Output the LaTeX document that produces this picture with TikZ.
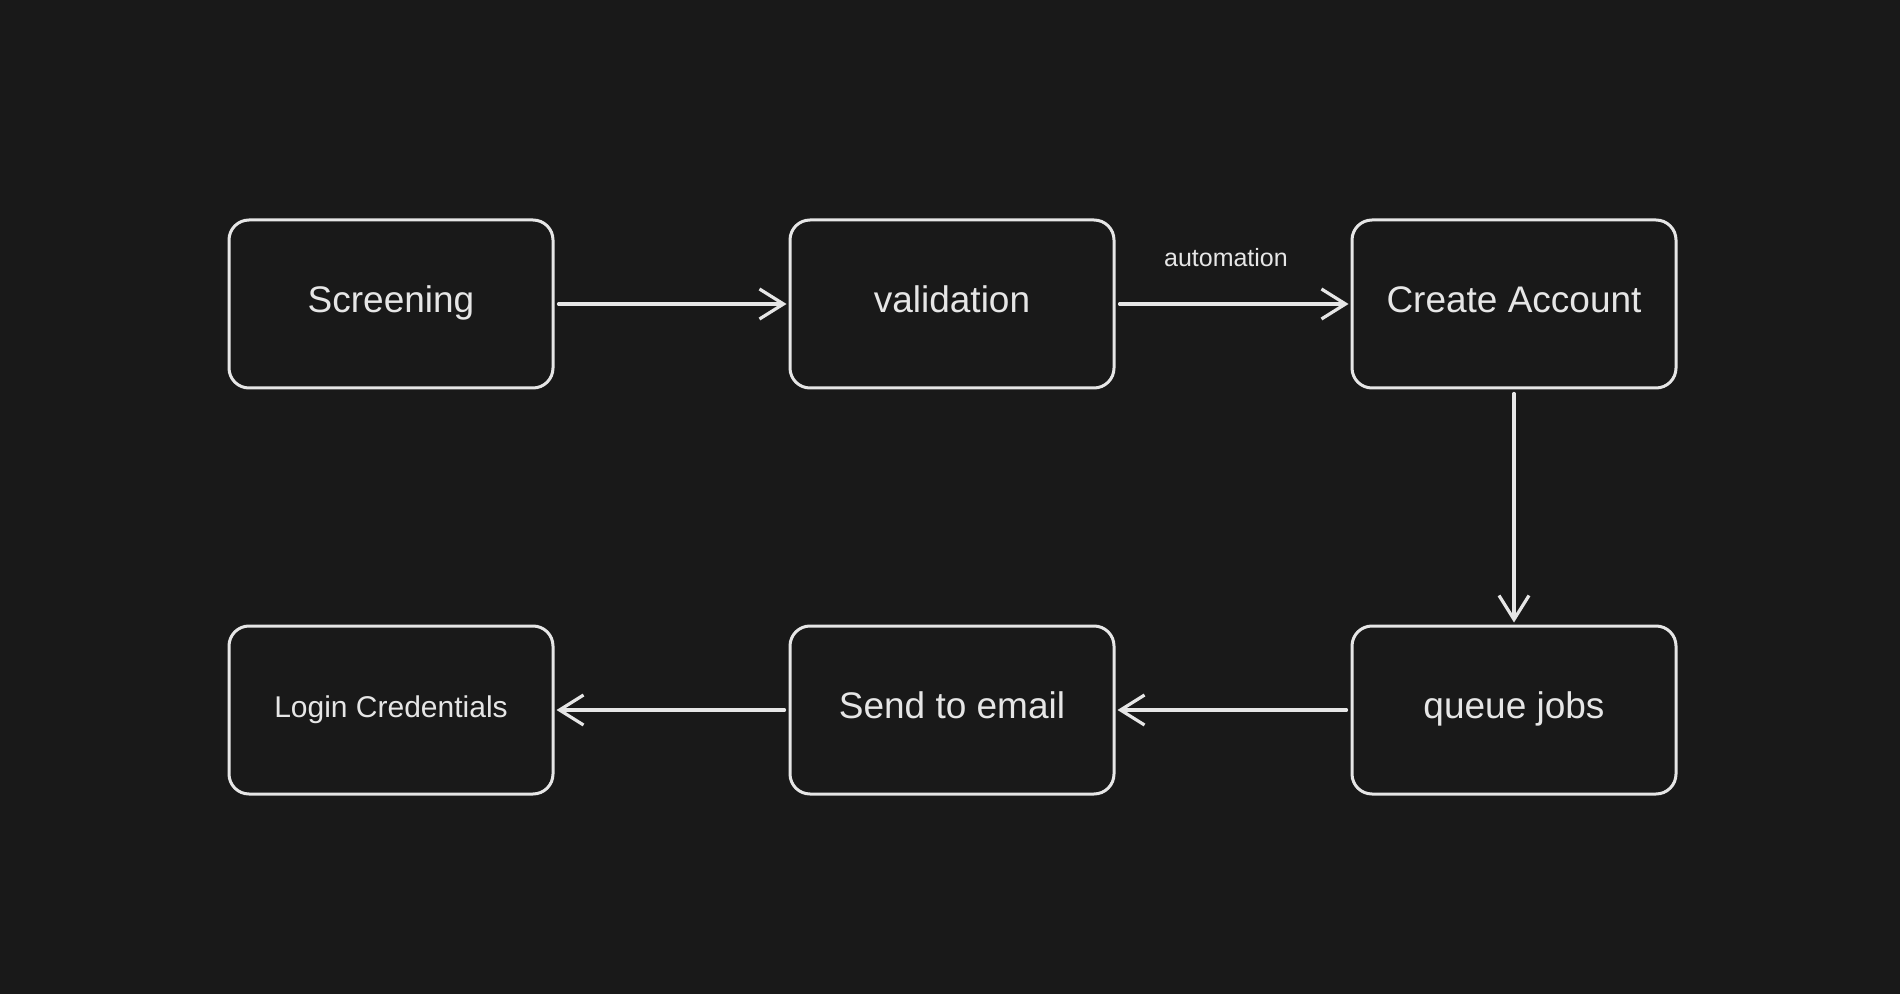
\documentclass[tikz,border=0pt]{standalone}
\usepackage{fontspec}
\setmainfont{Liberation Sans}
\usetikzlibrary{arrows.meta}
\definecolor{bg}{HTML}{191919}
\definecolor{ink}{HTML}{E6E6E6}
\begin{document}
\begin{tikzpicture}[x=0.5pt,y=-0.5pt,
  box/.style={draw=ink, line width=1.5pt, rounded corners=10pt, fill=bg,
    minimum width=162pt, minimum height=84pt, text=ink, inner sep=0pt,
    text height=0.88em, text depth=0em,
    font=\fontsize{18.5}{22}\selectfont},
  smallbox/.style={box, text height=0.75em, font=\fontsize{15}{18}\selectfont},
  conn/.style={draw=ink, line width=1.6pt, line cap=round,
    -{Straight Barb[length=12pt,width=15pt,line width=1.6pt]},
    shorten <=2pt, shorten >=1pt},
  lbl/.style={text=ink, font=\fontsize{12.5}{15}\selectfont, inner sep=0pt}]
\fill[bg] (0,0) rectangle (1900,994);
\useasboundingbox (0,0) rectangle (1900,994);
\node[box] (scr) at (391,304) {Screening};
\node[box] (val) at (952,304) {validation};
\node[box] (acc) at (1514,304) {Create Account};
\node[smallbox] (log) at (391,710) {Login Credentials};
\node[box] (snd) at (952,710) {Send to email};
\node[box] (que) at (1514,710) {queue jobs};
\draw[conn] (scr) -- (val);
\draw[conn] (val) -- node[lbl, pos=0.47, yshift=23pt] (auto) {automation} (acc);
\draw[conn] (acc) -- (que);
\draw[conn] (que) -- (snd);
\draw[conn] (snd) -- (log);
\end{tikzpicture}
\end{document}
